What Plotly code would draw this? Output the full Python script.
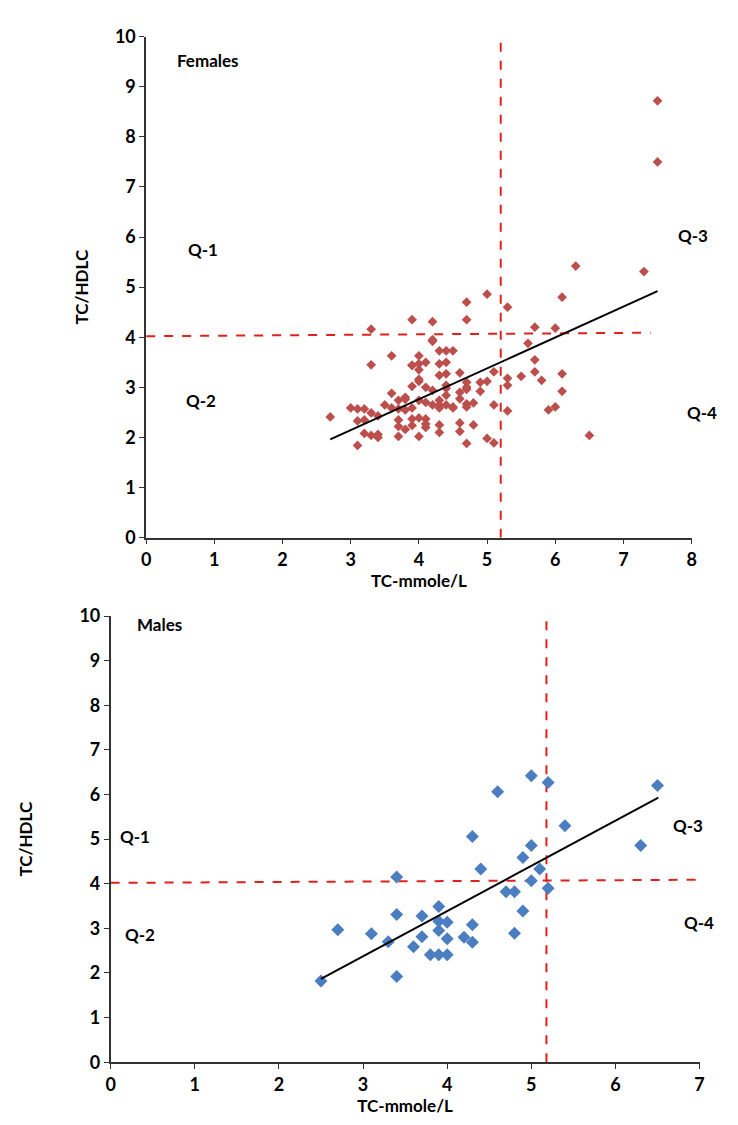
import plotly.graph_objects as go

# Females: TC (mmol/L) vs TC/HDLC
fem_tc = [2.7, 3.0, 3.1, 3.2, 3.3, 3.4, 3.1, 3.2, 3.7, 3.9, 4.0, 4.1, 4.1, 4.1,
          3.7, 3.8, 3.9, 4.3, 4.3, 3.2, 3.3, 3.4, 3.4, 3.7, 4.0, 3.1,
          3.6, 3.7, 3.8, 3.9, 3.5, 3.6, 3.8, 3.8, 3.7, 4.0, 4.1, 4.3, 4.3, 4.3,
          4.4, 4.5, 4.2, 3.9, 4.0, 4.0, 4.0, 3.9, 4.1, 4.2, 4.4, 4.4, 4.4,
          3.3, 3.9, 4.0, 4.1, 4.3, 4.4, 4.3, 4.4, 3.6, 4.0, 4.3, 4.4, 4.5,
          4.2, 4.2, 3.3, 3.9, 4.2,
          4.7, 5.0, 6.1, 5.3, 4.7, 5.7, 6.0, 5.6, 5.7, 4.6, 5.1, 5.7, 6.1, 5.3,
          5.5, 4.7, 4.7, 4.7, 4.9, 5.0, 5.3, 5.8, 4.6, 4.6, 4.9, 4.7, 4.7, 4.8,
          4.5, 5.1, 6.1, 5.3, 5.9, 6.0, 4.6, 4.8, 4.6, 5.0, 5.1, 4.7, 6.5,
          6.3, 7.3, 7.5, 7.5]
fem_ratio = [2.41, 2.59, 2.57, 2.57, 2.49, 2.43, 2.33, 2.35, 2.35, 2.37, 2.39, 2.37, 2.27, 2.20,
             2.22, 2.16, 2.24, 2.25, 2.10, 2.08, 2.04, 2.06, 2.00, 2.02, 2.02, 1.84,
             2.59, 2.57, 2.55, 2.59, 2.65, 2.88, 2.80, 2.76, 2.74, 2.74, 2.70, 2.74, 2.65, 2.59,
             2.65, 2.59, 2.65, 3.02, 3.16, 3.12, 3.35, 3.44, 3.00, 2.94, 3.04, 2.98, 2.84,
             3.45, 3.44, 3.47, 3.50, 3.47, 3.50, 3.24, 3.27, 3.63, 3.63, 3.73, 3.73, 3.73,
             3.92, 3.95, 4.16, 4.35, 4.31,
             4.70, 4.86, 4.80, 4.60, 4.35, 4.20, 4.18, 3.88, 3.55, 3.29, 3.31, 3.31, 3.27, 3.18,
             3.22, 3.10, 3.00, 2.96, 3.10, 3.12, 3.04, 3.14, 2.90, 2.77, 2.92, 2.67, 2.61, 2.69,
             2.61, 2.65, 2.92, 2.53, 2.55, 2.61, 2.29, 2.25, 2.12, 1.98, 1.89, 1.88, 2.04,
             5.42, 5.31, 7.50, 8.72]
fem_fit_tc = [2.7, 7.5]
fem_fit_ratio = [1.96, 4.92]

# Males
male_tc = [2.5, 2.7, 3.1, 3.3, 3.4, 3.4, 3.4, 3.6, 3.7, 3.7, 3.8, 3.9, 3.9, 3.9, 3.9,
           4.0, 4.0, 4.0, 4.2, 4.3, 4.3, 4.3, 4.4, 4.6, 4.7, 4.8, 4.8, 4.9, 4.9,
           5.0, 5.0, 5.0, 5.1, 5.2, 5.2, 5.4, 6.3, 6.5]
male_ratio = [1.82, 2.97, 2.88, 2.70, 1.92, 3.31, 4.15, 2.59, 2.81, 3.28, 2.41, 2.41, 2.95, 3.16, 3.49,
              2.41, 2.77, 3.14, 2.80, 2.69, 3.08, 5.06, 4.33, 6.06, 3.82, 3.82, 2.89, 3.39, 4.59,
              4.07, 4.86, 6.42, 4.33, 3.90, 6.27, 5.30, 4.86, 6.20]
male_fit_tc = [2.5, 6.51]
male_fit_ratio = [1.87, 5.93]

# quadrant cut-offs (TC 5.2 mmol/L, TC/HDLC 4)
fem_hline_x = [0, 7.4]
fem_hline_y = [4.02, 4.09]
fem_vline_x = [5.2, 5.2]
fem_vline_y = [0, 9.9]
male_hline_x = [0, 7.02]
male_hline_y = [4.02, 4.09]
male_vline_x = [5.18, 5.18]
male_vline_y = [0, 10.2]

FONT = "Lato"
RED = "#E0201B"

fig = go.Figure()

# top panel
fig.add_trace(go.Scatter(x=fem_hline_x, y=fem_hline_y, mode="lines", cliponaxis=False,
                         line=dict(color=RED, width=2, dash="dash"), xaxis="x", yaxis="y"))
fig.add_trace(go.Scatter(x=fem_vline_x, y=fem_vline_y, mode="lines", cliponaxis=False,
                         line=dict(color=RED, width=2, dash="dash"), xaxis="x", yaxis="y"))
fig.add_trace(go.Scatter(x=fem_tc, y=fem_ratio, mode="markers", cliponaxis=False,
                         marker=dict(symbol="diamond", size=7.5, color="#BC4F4C"),
                         xaxis="x", yaxis="y"))
fig.add_trace(go.Scatter(x=fem_fit_tc, y=fem_fit_ratio, mode="lines",
                         line=dict(color="black", width=2), xaxis="x", yaxis="y"))

# bottom panel
fig.add_trace(go.Scatter(x=male_hline_x, y=male_hline_y, mode="lines", cliponaxis=False,
                         line=dict(color=RED, width=2, dash="dash"), xaxis="x2", yaxis="y2"))
fig.add_trace(go.Scatter(x=male_vline_x, y=male_vline_y, mode="lines", cliponaxis=False,
                         line=dict(color=RED, width=2, dash="dash"), xaxis="x2", yaxis="y2"))
fig.add_trace(go.Scatter(x=male_tc, y=male_ratio, mode="markers", cliponaxis=False,
                         marker=dict(symbol="diamond", size=10, color="#4A7EC0"),
                         xaxis="x2", yaxis="y2"))
fig.add_trace(go.Scatter(x=male_fit_tc, y=male_fit_ratio, mode="lines",
                         line=dict(color="black", width=2), xaxis="x2", yaxis="y2"))

axis_common = dict(showline=True, linecolor="#333333", linewidth=1.5, ticks="outside",
                   ticklen=5, tickcolor="#333333", showgrid=False, zeroline=False,
                   tickfont=dict(family=FONT, size=18, color="black", weight="bold"),
                   dtick=1)
title_font = dict(family=FONT, size=17, color="black", weight="bold")

fig.update_layout(
    width=738, height=1125,
    margin=dict(l=0, r=0, t=0, b=0),
    paper_bgcolor="white", plot_bgcolor="white",
    showlegend=False,
    xaxis=dict(axis_common, domain=[0.1829, 0.9322], range=[0, 8], anchor="y",
               title=dict(text="TC-mmole/L", standoff=2, font=title_font)),
    yaxis=dict(axis_common, domain=[0.5307, 0.9849], range=[0, 10], anchor="x",
               title=dict(text="TC/HDLC", standoff=22, font=title_font)),
    xaxis2=dict(axis_common, domain=[0.1341, 0.9431], range=[0, 7], anchor="y2",
                title=dict(text="TC-mmole/L", standoff=0, font=title_font)),
    yaxis2=dict(axis_common, domain=[0.0551, 0.4596], range=[0, 10], anchor="x2",
                title=dict(text="TC/HDLC", standoff=42, font=title_font)),
)

lab_font = dict(family=FONT, size=17, color="black", weight="bold")
labels = [
    ("x", "y", 0.9, 9.53, "Females"),
    ("x", "y", 0.84, 5.75, "Q-1"),
    ("x", "y", 0.8, 2.74, "Q-2"),
    ("x2", "y2", 0.58, 9.81, "Males"),
    ("x2", "y2", 0.29, 5.07, "Q-1"),
    ("x2", "y2", 0.35, 2.86, "Q-2"),
]
for xr, yr, xv, yv, txt in labels:
    fig.add_annotation(x=xv, y=yv, xref=xr, yref=yr, text=txt, showarrow=False,
                       font=lab_font)

# right-hand quadrant labels sit outside the plotting area
side_labels = [
    ("y", 0.957, 6.03, "Q-3"),
    ("y", 0.970, 2.5, "Q-4"),
    ("y2", 0.950, 5.3, "Q-3"),
    ("y2", 0.965, 3.14, "Q-4"),
]
for yr, xp, yv, txt in side_labels:
    fig.add_annotation(x=xp, y=yv, xref="paper", yref=yr, text=txt, showarrow=False,
                       font=lab_font)

fig.write_html("out.html")
